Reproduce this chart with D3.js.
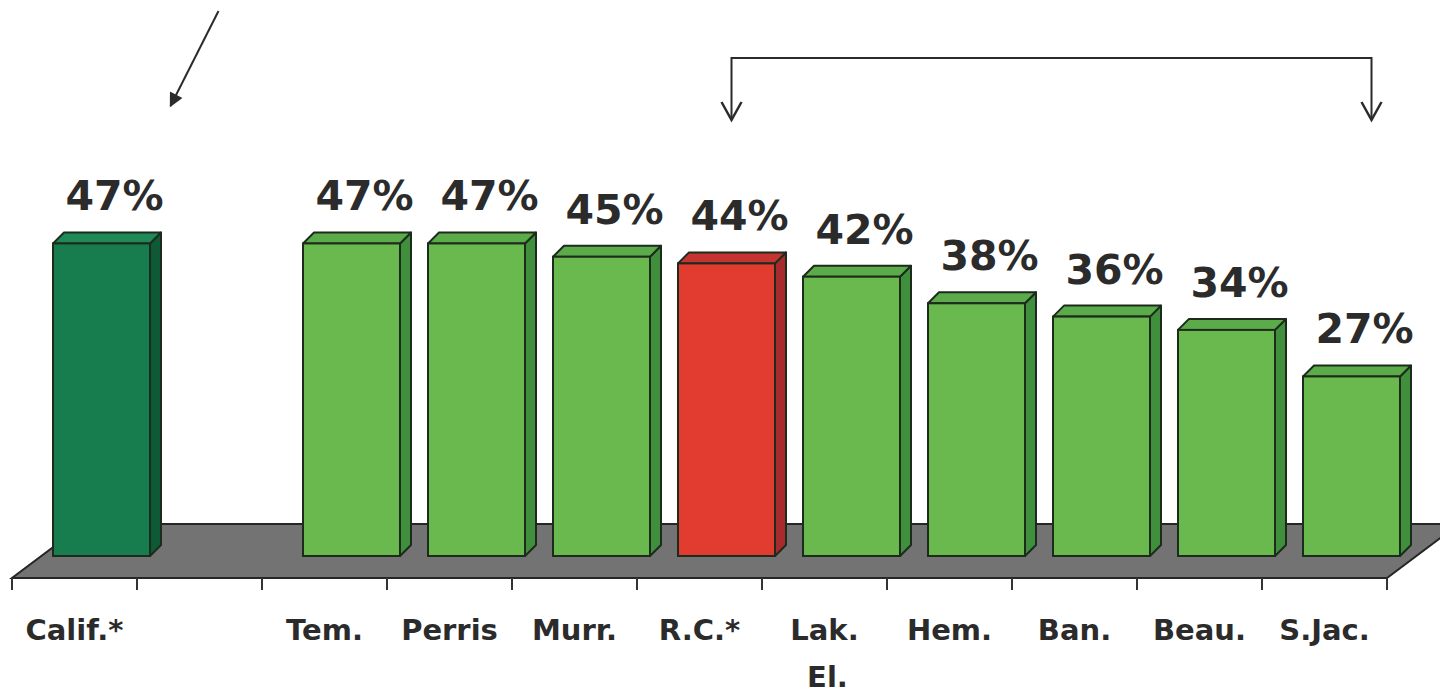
<!DOCTYPE html>
<html>
<head>
<meta charset="utf-8">
<script src="https://cdn.jsdelivr.net/npm/d3@7"></script>
<style>
  html, body { margin: 0; padding: 0; background: #ffffff; }
  svg { display: block; }
  text { font-family: "DejaVu Sans", Verdana, sans-serif; fill: #2b2b2b; }
</style>
</head>
<body>
<svg id="chart" width="1440" height="696"></svg>
<script>
// Share of respondents by area; the second slot is an intentional gap
const categories = ["Calif.*", "", "Tem.", "Perris", "Murr.", "R.C.*", "Lak. El.", "Hem.", "Ban.", "Beau.", "S.Jac."];
const values = [47, null, 47, 47, 45, 44, 42, 38, 36, 34, 27];
const stateCategory = "Calif.*";
const focusCategory = "R.C.*";
const bracketFrom = "R.C.*";
const bracketTo = "S.Jac.";

const W = 1440, H = 696;
const svg = d3.select("#chart");

// Floor geometry (front edge, depth slant)
const floorFront = 578, floorBack = 524;
const floorDx = 72;
const barBase = 556;          // bottom of the front faces
const barShift = 27;          // bars sit part-way back on the floor
const depth = 11;             // bar depth offset (x and y)

const x = d3.scaleBand()
  .domain(categories)
  .range([12, 1387])
  .paddingInner(0.224)
  .paddingOuter(0.112);

const y = d3.scaleLinear().domain([0, 50]).range([barBase, barBase - 332.5]);

const palette = {
  state: { front: "#177d4e", side: "#0e5a37", top: "#1f8a57" },
  focus: { front: "#e23c30", side: "#a92a2c", top: "#c53431" },
  other: { front: "#6ab94f", side: "#408f3c", top: "#5cab4a" }
};
const outline = "#1d2b1d";

const data = categories.map((c, i) => ({ cat: c, value: values[i] }));
const x0 = x.range()[0];
const step = x.step();

// Floor
const r = x.range();
svg.append("polygon")
  .attr("points", [
    [r[0], floorFront], [r[1], floorFront],
    [r[1] + floorDx, floorBack], [r[0] + floorDx, floorBack]
  ].map(p => p.join(",")).join(" "))
  .attr("fill", "#727372")
  .attr("stroke", "#262626")
  .attr("stroke-width", 2);

// Axis ticks at category boundaries
const boundaries = d3.range(categories.length + 1).map(i => x0 + i * step);
svg.append("g").selectAll("line")
  .data(boundaries)
  .join("line")
  .attr("x1", d => d).attr("x2", d => d)
  .attr("y1", floorFront).attr("y2", floorFront + 12)
  .attr("stroke", "#333")
  .attr("stroke-width", 2);

// Bars
const bars = svg.append("g").selectAll("g")
  .data(data.filter(d => d.value != null))
  .join("g");

function colors(d) {
  if (d.cat === stateCategory) return palette.state;
  if (d.cat === focusCategory) return palette.focus;
  return palette.other;
}

bars.each(function (d) {
  const g = d3.select(this);
  const xl = x(d.cat) + barShift;
  const xr = xl + x.bandwidth();
  const yt = y(d.value);
  const c = colors(d);
  g.append("polygon")
    .attr("points", [[xr, yt], [xr + depth, yt - depth], [xr + depth, barBase - depth], [xr, barBase]].map(p => p.join(",")).join(" "))
    .attr("fill", c.side).attr("stroke", outline).attr("stroke-width", 2).attr("stroke-linejoin", "round");
  g.append("polygon")
    .attr("points", [[xl, yt], [xl + depth, yt - depth], [xr + depth, yt - depth], [xr, yt]].map(p => p.join(",")).join(" "))
    .attr("fill", c.top).attr("stroke", outline).attr("stroke-width", 2).attr("stroke-linejoin", "round");
  g.append("rect")
    .attr("x", xl).attr("y", yt)
    .attr("width", x.bandwidth()).attr("height", barBase - yt)
    .attr("fill", c.front).attr("stroke", outline).attr("stroke-width", 2);
});

// Value labels
const fmt = d => d3.format(".0f")(d) + "%";
bars.append("text")
  .attr("x", d => x(d.cat) + barShift + x.bandwidth() / 2 + 13)
  .attr("y", d => y(d.value) - 33)
  .attr("text-anchor", "middle")
  .attr("font-size", 41)
  .attr("font-weight", "bold")
  .text(d => fmt(d.value));

// Category labels (multi-word names wrap onto a second line)
const catLabels = svg.append("g").selectAll("text")
  .data(categories.filter(c => c !== ""))
  .join("text")
  .attr("x", c => x(c) + x.bandwidth() / 2)
  .attr("y", 640)
  .attr("text-anchor", "middle")
  .attr("font-size", 29)
  .attr("font-weight", "bold");
catLabels.each(function (c) {
  const parts = c.split(" ");
  const t = d3.select(this);
  parts.forEach((p, i) => {
    t.append("tspan")
      .attr("x", x(c) + x.bandwidth() / 2 + (i > 0 ? 3 : 0))
      .attr("dy", i === 0 ? 0 : 47)
      .text(p);
  });
});

// Annotation arrows
const defs = svg.append("defs");
defs.append("marker")
  .attr("id", "solidHead")
  .attr("viewBox", "0 0 10 10")
  .attr("refX", 9).attr("refY", 5)
  .attr("markerWidth", 8).attr("markerHeight", 7)
  .attr("markerUnits", "strokeWidth")
  .attr("orient", "auto")
  .append("path").attr("d", "M0,0 L10,5 L0,10 Z").attr("fill", "#2b2b2b");

// Pointer toward the state-wide bar
const sx = x(stateCategory) + barShift + x.bandwidth() / 2;
svg.append("line")
  .attr("x1", sx + 117).attr("y1", 11)
  .attr("x2", sx + 69).attr("y2", 106)
  .attr("stroke", "#2b2b2b")
  .attr("stroke-width", 2)
  .attr("marker-end", "url(#solidHead)");

// Bracket spanning the comparison group
const bx1 = x(bracketFrom) + barShift + x.bandwidth() / 2 + 5;
const bx2 = x(bracketTo) + barShift + x.bandwidth() / 2 + 20;
const bTop = 58, bTip = 120;
svg.append("path")
  .attr("d", `M${bx1},${bTip} V${bTop} H${bx2} V${bTip}`)
  .attr("fill", "none")
  .attr("stroke", "#2b2b2b")
  .attr("stroke-width", 2);
[bx1, bx2].forEach(bx => {
  svg.append("path")
    .attr("d", `M${bx - 10},${bTip - 18} L${bx},${bTip} L${bx + 10},${bTip - 18}`)
    .attr("fill", "none")
    .attr("stroke", "#2b2b2b")
    .attr("stroke-width", 2.5)
    .attr("stroke-linejoin", "miter");
});
</script>
</body>
</html>
